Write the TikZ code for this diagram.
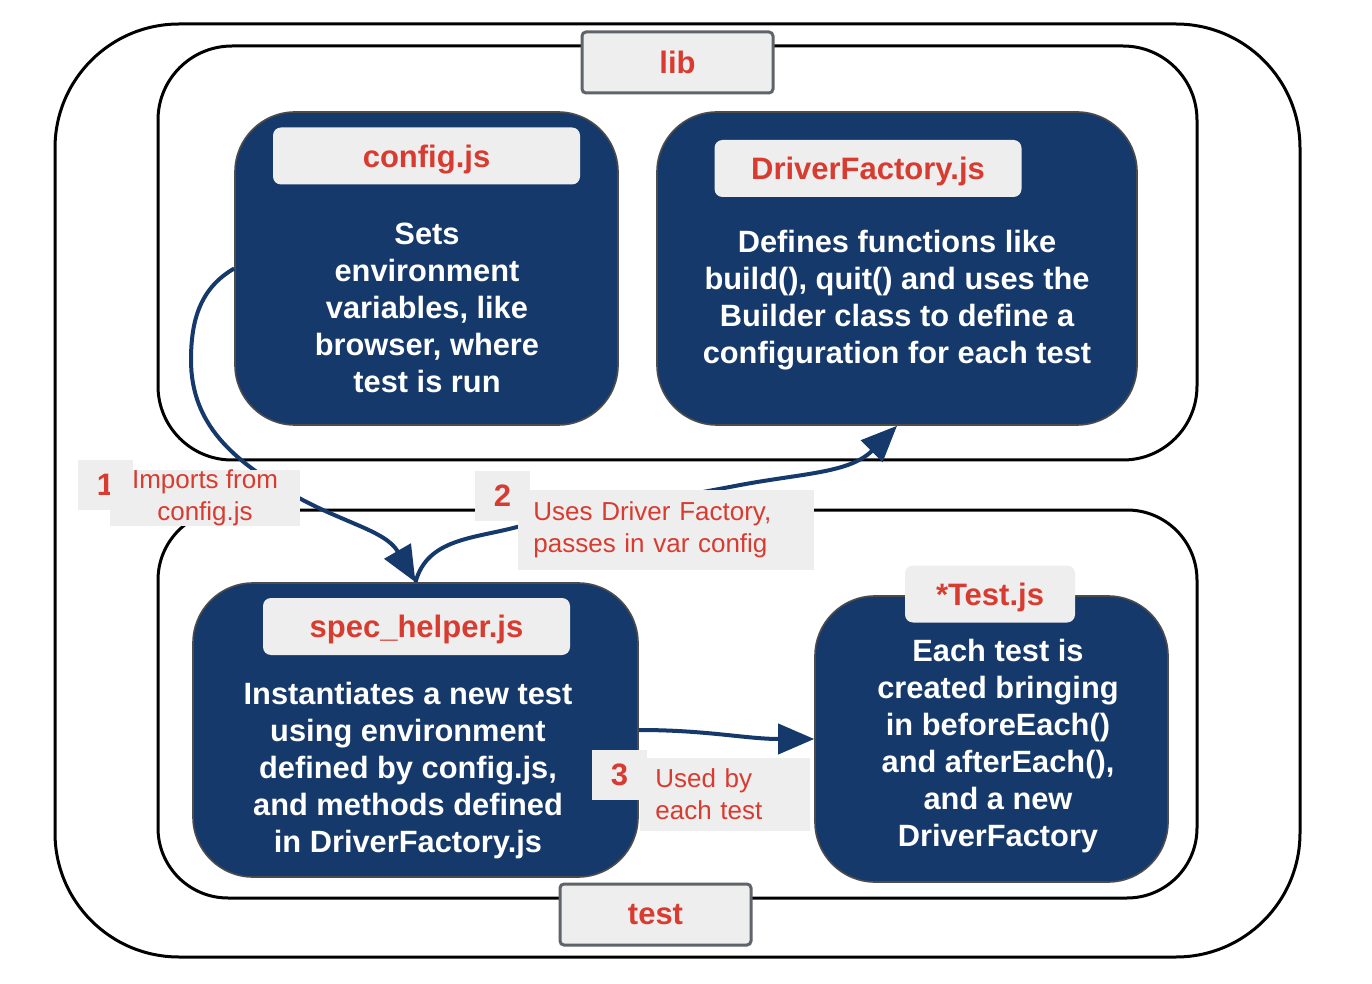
\documentclass[tikz,border=0pt]{standalone}
\usepackage{fontspec}
\setmainfont{Liberation Sans}
\usetikzlibrary{arrows.meta}
\definecolor{cardblue}{HTML}{16396B}
\definecolor{labelred}{HTML}{D83B30}
\definecolor{tagfill}{HTML}{EEEEEE}
\definecolor{tagline}{HTML}{5F636A}

\begin{document}
\begin{tikzpicture}[x=0.5pt, y=-0.5pt,
   frame/.style={draw=black, line width=1.5pt},
   tag/.style={draw=tagline, line width=1.5pt, fill=tagfill, rounded corners=2pt, minimum width=95.5pt, minimum height=30.5pt, text=labelred, font=\bfseries\fontsize{15.5}{17}\selectfont},
   card/.style={draw=black!70, line width=0.8pt, fill=cardblue, rounded corners=30pt},
   title/.style={fill=tagfill, rounded corners=4pt, minimum width=153.5pt, minimum height=28.5pt, text depth=0pt, text=labelred, font=\bfseries\fontsize{15.5}{17}\selectfont},
   body/.style={text=white, align=center, inner sep=0pt, font=\bfseries\fontsize{15.4}{18.5}\selectfont},
   note/.style={fill=tagfill, text=labelred, font=\fontsize{13}{16}\selectfont},
   num/.style={fill=tagfill, text=labelred, minimum width=27.5pt, minimum height=25pt, inner sep=0pt, font=\bfseries\fontsize{15.5}{16}\selectfont},
   flow/.style={draw=cardblue, line width=2pt, -{Triangle[length=18pt, width=15pt]}}]
   \path[use as bounding box, fill=white] (0,0) rectangle (1372,984);
   \node[frame, rounded corners=62pt, minimum width=622.5pt, minimum height=466.5pt] (outer) at (677.5,490.5) {};
   \node[frame, rounded corners=37pt, minimum width=519.5pt, minimum height=207pt] (libframe) at (677.5,253) {};
   \node[frame, rounded corners=35pt, minimum width=519.5pt, minimum height=194pt] (testframe) at (677.5,704) {};
   \node[tag] (libtag) at (677.5,62.5) {lib};
   \node[tag] (testtag) at (655.5,914.5) {test};
   \node[card, minimum width=191.5pt, minimum height=156.5pt] (config) at (426.5,268.5) {};
   \node[card, minimum width=240pt, minimum height=156.5pt] (driver) at (897,268.5) {};
   \node[card, minimum width=222.5pt, minimum height=147pt] (spec) at (415.5,730) {};
   \node[card, minimum width=176.5pt, minimum height=143pt] (testjs) at (991.5,739) {};
   \node[title] (configtitle) at (426.5,156) {config.js};
   \node[title] (drivertitle) at (868,168.5) {DriverFactory.js};
   \node[title] (spectitle) at (416.5,626.5) {spec\_helper.js};
   \node[title, minimum width=85pt] (testtitle) at (990,594) {*Test.js};
   \node[body] (configtext) at (427,307.5) {Sets\\environment\\variables, like\\browser, where\\test is run};
   \node[body] (drivertext) at (897,300.5) {Defines functions like\\build(), quit() and uses the\\Builder class to define a\\configuration for each test};
   \node[body] (spectext) at (408,770.5) {Instantiates a new test\\using environment\\defined by config.js,\\and methods defined\\in DriverFactory.js};
   \node[body] (testtext) at (998,746.5) {Each test is\\created bringing\\in beforeEach()\\and afterEach(),\\and a new\\DriverFactory};
   \draw[flow] (config.west) to[out=210, in=90] (191,360) to[out=-90, in=150] (290,493) to[out=-30, in=120] (spec.north);
   \draw[flow] (spec.north) to[out=75, in=195] (517,527) -- (735,486) to[out=11, in=225] (driver.south);
   \draw[flow] (spec.east) to[out=0, in=180] (testjs.west);
   \node[num] (n1) at (105.5,485) {1};
   \node[note, minimum width=95pt, minimum height=25.5pt, align=center, inner sep=0pt] (n1text) at (205,498) {Imports from\\config.js};
   \node[num] (n2) at (502.5,495.5) {2};
   \node[note, anchor=west, text width=133pt, inner xsep=7.5pt, inner ysep=0pt, minimum height=40pt, align=left] (n2text) at (518,530) {Uses Driver Factory,\\passes in var config};
   \node[num] (n3) at (619.5,775) {3};
   \node[note, anchor=west, text width=70pt, inner xsep=7.5pt, inner ysep=0pt, minimum height=36.5pt, align=left] (n3text) at (640,794.5) {Used by\\each test};
\end{tikzpicture}
\end{document}
